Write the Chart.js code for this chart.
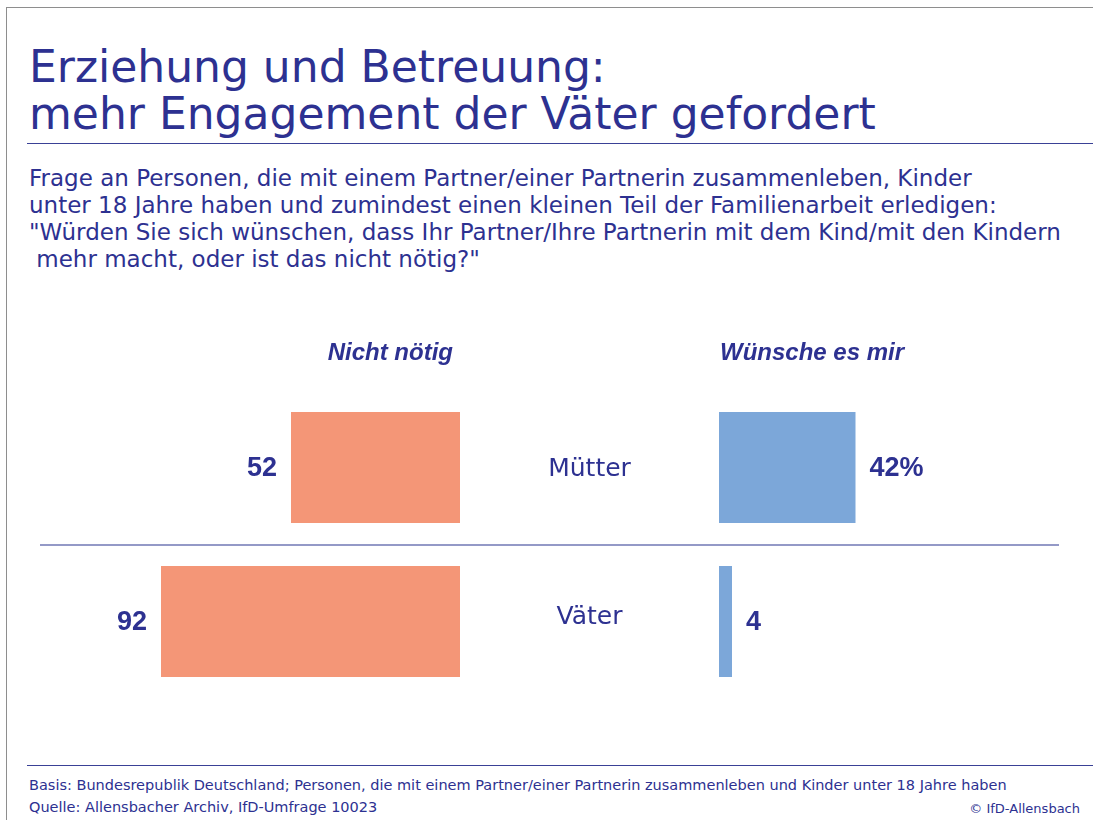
<!DOCTYPE html>
<html lang="de">
<head>
<meta charset="utf-8">
<title>Erziehung und Betreuung</title>
<script src="https://cdn.jsdelivr.net/npm/chart.js@4.4.1/dist/chart.umd.min.js"></script>
<style>
  body { margin: 0; width: 1093px; height: 820px; overflow: hidden; background: #fff; position: relative; font-family: "DejaVu Sans", sans-serif; color: #2d3191; }
  .frame { position: absolute; left: 6px; top: 7px; right: 0; bottom: 0; border-left: 1.5px solid #8e8e8e; border-top: 1.5px solid #8e8e8e; }
  .title { position: absolute; left: 29px; top: 43px; font-size: 44px; line-height: 47px; white-space: pre; }
  .rule { position: absolute; left: 27px; right: 0; height: 0; border-top: 1.5px solid #3a4196; }
  .question { position: absolute; left: 29px; top: 165px; font-size: 23px; line-height: 27px; white-space: pre; }
  .footer { position: absolute; left: 29px; top: 774px; font-size: 14.5px; line-height: 22px; white-space: pre; }
  .copy { position: absolute; right: 13px; top: 801px; font-size: 13px; white-space: pre; }
  #chart { position: absolute; left: 0; top: 0; }
</style>
</head>
<body>
<div class="frame"></div>
<div class="title">Erziehung und Betreuung:
mehr Engagement der Väter gefordert</div>
<div class="rule" style="top:143px"></div>
<div class="question">Frage an Personen, die mit einem Partner/einer Partnerin zusammenleben, Kinder
unter 18 Jahre haben und zumindest einen kleinen Teil der Familienarbeit erledigen:
"Würden Sie sich wünschen, dass Ihr Partner/Ihre Partnerin mit dem Kind/mit den Kindern
 mehr macht, oder ist das nicht nötig?"</div>
<div class="rule" style="top:765px"></div>
<div class="footer">Basis: Bundesrepublik Deutschland; Personen, die mit einem Partner/einer Partnerin zusammenleben und Kinder unter 18 Jahre haben
Quelle: Allensbacher Archiv, IfD-Umfrage 10023</div>
<div class="copy">© IfD-Allensbach</div>
<canvas id="chart" width="1093" height="820"></canvas>

<script>
// data
const categories = ['Mütter', 'Väter'];
const nichtNoetig = [52, 92];
const wuenscheEsMir = [42, 4];
const seriesNames = ['Nicht nötig', 'Wünsche es mir'];

const navy = '#2d3191';

// layout: both halves share one chart area, each with its own x scale
const area = { left: 40, right: 1059 };
const pxPerUnit = 3.25;
const leftBase = 460;   // where "Nicht nötig" bars start (growing left)
const rightBase = 719;  // where "Wünsche es mir" bars start (growing right)
const range = (area.right - area.left) / pxPerUnit;
const xlMin = -(area.right - leftBase) / pxPerUnit;
const xrMin = -(rightBase - area.left) / pxPerUnit;

// headers, category names and value labels
const labelPlugin = {
  id: 'labels',
  afterDatasetsDraw(chart) {
    const ctx = chart.ctx;
    const xl = chart.scales.xl, xr = chart.scales.xr, y = chart.scales.y;
    const l0 = xl.getPixelForValue(0), r0 = xr.getPixelForValue(0);
    ctx.save();
    ctx.fillStyle = navy;
    ctx.textBaseline = 'alphabetic';

    // column headers
    ctx.font = 'italic bold 24px "Liberation Sans", Arial, sans-serif';
    ctx.textAlign = 'right';
    ctx.fillText(seriesNames[0], l0 - 7, 360);
    ctx.textAlign = 'left';
    ctx.fillText(seriesNames[1], r0 + 1, 360);

    // category names in the middle
    ctx.font = '25px "DejaVu Sans", sans-serif';
    ctx.textAlign = 'center';
    ctx.textBaseline = 'middle';
    categories.forEach((c, i) => {
      ctx.fillText(c, (l0 + r0) / 2, y.getPixelForValue(i) + (i === 0 ? 2 : -4));
    });

    // value labels
    ctx.font = 'bold 27px "Liberation Sans", Arial, sans-serif';
    chart.getDatasetMeta(0).data.forEach((bar, i) => {
      ctx.textAlign = 'right';
      ctx.fillText(String(nichtNoetig[i]), bar.x - 14, bar.y + 1);
    });
    chart.getDatasetMeta(1).data.forEach((bar, i) => {
      ctx.textAlign = 'left';
      ctx.fillText(wuenscheEsMir[i] + (i === 0 ? '%' : ''), bar.x + 14, bar.y + 1);
    });
    ctx.restore();
  }
};

new Chart(document.getElementById('chart'), {
  type: 'bar',
  data: {
    labels: categories,
    datasets: [
      {
        label: seriesNames[0],
        data: nichtNoetig,
        xAxisID: 'xl',
        grouped: false,
        backgroundColor: '#f49677',
        barPercentage: 0.72,
        categoryPercentage: 1
      },
      {
        label: seriesNames[1],
        data: wuenscheEsMir,
        xAxisID: 'xr',
        grouped: false,
        backgroundColor: '#7ca7d9',
        barPercentage: 0.72,
        categoryPercentage: 1
      }
    ]
  },
  options: {
    indexAxis: 'y',
    responsive: false,
    animation: false,
    layout: { padding: { left: area.left, right: 1093 - area.right, top: 390.5, bottom: 121.5 } },
    scales: {
      xl: { type: 'linear', axis: 'x', reverse: true, min: xlMin, max: xlMin + range, display: false },
      xr: { type: 'linear', axis: 'x', min: xrMin, max: xrMin + range, display: false },
      y: {
        type: 'category',
        ticks: { display: false },
        border: { display: false },
        grid: {
          drawTicks: false,
          lineWidth: 2,
          // only the line between the two rows is visible
          color: c => (c.index === 1 ? '#9499c7' : 'rgba(0,0,0,0)')
        }
      }
    },
    plugins: {
      legend: { display: false },
      tooltip: { enabled: false }
    }
  },
  plugins: [labelPlugin]
});
</script>
</body>
</html>
